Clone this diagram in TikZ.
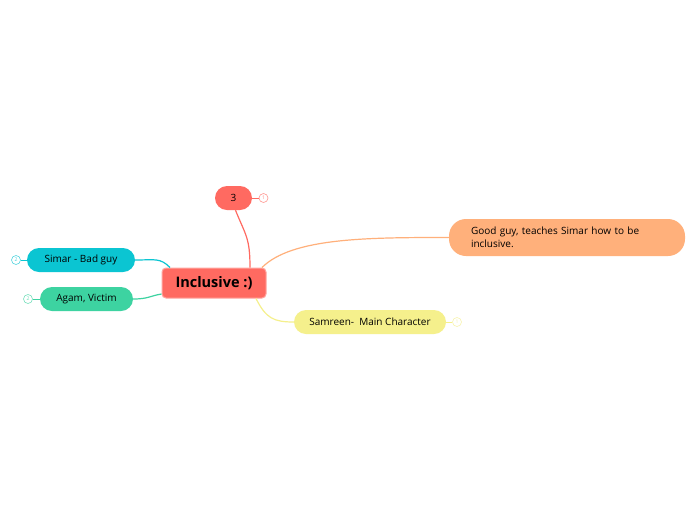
\documentclass[tikz,border=0pt]{standalone}
\usepackage{fontspec}
\setmainfont{Open Sans}
\definecolor{cred}{HTML}{FF6A61}
\definecolor{ccyan}{HTML}{0BC5D2}
\definecolor{cgreen}{HTML}{3DD3A1}
\definecolor{cyellow}{HTML}{F5F08C}
\definecolor{corange}{HTML}{FFB07B}
\tikzset{
  topic/.style={rounded corners=12pt, inner sep=0pt, font=\fontsize{10}{13}\selectfont, text=black},
  badge/.style={circle, draw=#1!70, fill=white, line width=0.6pt, minimum size=9pt, inner sep=0pt, font=\fontsize{5}{5}\selectfont, text=#1!80},
  link/.style={line width=1.2pt, draw=#1}
}
\begin{document}
\begin{tikzpicture}[x=1pt,y=-1pt]
\useasboundingbox (0,0) rectangle (696,520);
\fill[white] (0,0) rectangle (696,520);
% nodes
\node[fill=cred, draw=cred!60!white, line width=1pt, rounded corners=4pt, minimum width=104pt, minimum height=30pt, inner sep=0pt, font=\fontsize{14.5}{16}\selectfont\bfseries] (c) at (214,283) {Inclusive :)};
\node[topic, fill=cred, minimum width=37pt, minimum height=24pt] (n3) at (233.5,198) {3};
\node[topic, fill=ccyan, minimum width=108pt, minimum height=24pt] (simar) at (81,260) {Simar - Bad guy};
\node[topic, fill=cgreen, minimum width=93pt, minimum height=24pt] (agam) at (86.5,299) {Agam, Victim};
\node[topic, fill=cyellow, minimum width=152pt, minimum height=24pt] (sam) at (370,322) {Samreen-\ \ Main Character};
\node[topic, fill=corange, rounded corners=17pt, minimum width=236pt, minimum height=37pt, align=left, text width=192pt, inner xsep=22pt] (good) at (567,237.5) {Good guy, teaches Simar how to be\\inclusive.};
% connectors
\draw[link=cred] ([xshift=36pt]c.north) .. controls +(0,-30) and +(10,25) .. ([xshift=2pt]n3.south);
\draw[link=corange] ([xshift=48pt]c.north) .. controls +(30,-30) and +(-80,0) .. (good.west);
\draw[link=cyellow] ([xshift=42pt]c.south) .. controls +(10,20) and +(-20,0) .. (sam.west);
\draw[link=ccyan] ([xshift=-44pt]c.north) .. controls +(-10,-10) and +(20,0) .. (simar.east);
\draw[link=cgreen] ([yshift=-11pt]c.west) .. controls +(-12,2) and +(15,0) .. (agam.east);
% badges
\node[badge=cred] (b3) at (263.5,198) {1};
\draw[cred, line width=0.8pt] (n3.east) -- (b3.west);
\node[badge=ccyan] (bs) at (16,260) {2};
\draw[ccyan, line width=0.8pt] (simar.west) -- (bs.east);
\node[badge=cgreen] (ba) at (28,299) {2};
\draw[cgreen, line width=0.8pt] (agam.west) -- (ba.east);
\node[badge=cyellow] (bsam) at (457,322) {1};
\draw[cyellow, line width=0.8pt] (sam.east) -- (bsam.west);
\end{tikzpicture}
\end{document}
